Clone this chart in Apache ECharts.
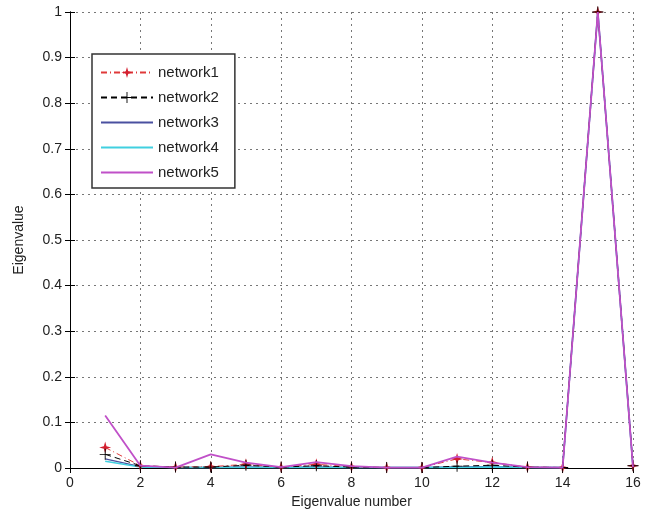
<!DOCTYPE html>
<html><head><meta charset="utf-8">
<script src="https://cdn.jsdelivr.net/npm/echarts@6/dist/echarts.min.js"></script>
<style>html,body{margin:0;padding:0;background:#fff}#c{width:651px;height:520px}</style>
</head><body><div id="c"></div>
<script>
const xValues = [1,2,3,4,5,6,7,8,9,10,11,12,13,14,15,16];
const network1 = [0.045,0.005,0.002,0.003,0.008,0.002,0.008,0.003,0.001,0.001,0.02,0.012,0.002,0.001,1,0.005];
const network2 = [0.03,0.005,0.002,0.002,0.006,0.002,0.005,0.002,0.001,0.001,0.004,0.006,0.002,0.001,1,0.005];
const network3 = [0.02,0.003,0.001,0.001,0.002,0.001,0.002,0.001,0.001,0.001,0.002,0.003,0.001,0.001,1,0.002];
const network4 = [0.015,0.002,0.001,0.001,0.001,0.001,0.001,0.001,0.001,0.001,0.001,0.002,0.001,0.001,1,0.002];
const network5 = [0.115,0.005,0.001,0.03,0.012,0.002,0.013,0.004,0.001,0.001,0.025,0.012,0.002,0.001,1,0.002];
const names = ['network1','network2','network3','network4','network5'];

const pairs = a => xValues.map((x,i)=>[x,a[i]]);
const star = 'path://M0,-10 L2.2,-2.2 L10,0 L2.2,2.2 L0,10 L-2.2,2.2 L-10,0 L-2.2,-2.2 Z';
const plus = 'path://M-0.8,-10 L0.8,-10 L0.8,-0.8 L10,-0.8 L10,0.8 L0.8,0.8 L0.8,10 L-0.8,10 L-0.8,0.8 L-10,0.8 L-10,-0.8 L-0.8,-0.8 Z';
const font = 'Arial, "Liberation Sans", sans-serif';
const axisCommon = {
  axisLine:{show:true,lineStyle:{color:'#000',width:1}},
  axisTick:{show:true,inside:true,length:5,lineStyle:{color:'#000'}},
  axisLabel:{color:'#222',fontSize:14,fontFamily:font},
};
const chart = echarts.init(document.getElementById('c'));
chart.setOption({
  animation:false,
  backgroundColor:'#fff',
  grid:{left:70,right:18,top:12,bottom:52,show:false},
  legend:{
    orient:'vertical', left:92, top:54,
    backgroundColor:'#fff', borderColor:'#333', borderWidth:1.5,
    padding:[11,16,8,8], itemGap:10, itemWidth:52, itemHeight:14,
    textStyle:{fontSize:15,fontFamily:font,color:'#222'},
    data:[
      {name:'network1'},
      {name:'network2'},
      {name:'network3',itemStyle:{opacity:0}},
      {name:'network4',itemStyle:{opacity:0}},
      {name:'network5',itemStyle:{opacity:0}}
    ]
  },
  xAxis:[
    Object.assign({type:'value',min:0,max:16,interval:2,name:'Eigenvalue number',nameLocation:'middle',nameGap:24,
      nameTextStyle:{fontSize:14,fontFamily:font,color:'#222'},
      splitLine:{show:true,lineStyle:{color:'#777',type:[2,4],width:1}}},axisCommon,
      {axisLabel:Object.assign({},axisCommon.axisLabel,{margin:8})}),
    {type:'value',min:0,max:16,interval:2,position:'top',axisLine:{show:true,lineStyle:{color:'#000'}},
      axisTick:{show:true,inside:true,length:5,lineStyle:{color:'#000'}},axisLabel:{show:false},splitLine:{show:false}}
  ],
  yAxis:[
    Object.assign({type:'value',min:0,max:1,interval:0.1,name:'Eigenvalue',nameLocation:'middle',nameGap:44,
      nameTextStyle:{fontSize:14,fontFamily:font,color:'#222'},
      splitLine:{show:true,lineStyle:{color:'#777',type:[2,4],width:1}}},axisCommon,
      {axisLabel:Object.assign({},axisCommon.axisLabel,{margin:8,formatter:v=>String(Math.round(v*10)/10)})}),
    {type:'value',min:0,max:1,interval:0.1,position:'right',axisLine:{show:true,lineStyle:{color:'#000'}},
      axisTick:{show:true,inside:true,length:5,lineStyle:{color:'#000'}},axisLabel:{show:false},splitLine:{show:false}}
  ],
  series:[
    {name:'network1',type:'line',data:pairs(network1),symbol:star,symbolSize:12,
      lineStyle:{color:'#e03a3a',width:1,type:[6,3,1,3]},itemStyle:{color:'#d42030'},z:6},
    {name:'network2',type:'line',data:pairs(network2),symbol:plus,symbolSize:11,
      lineStyle:{color:'#000',width:1,type:[6,4]},itemStyle:{color:'#000'},z:7},
    {name:'network3',type:'line',data:pairs(network3),symbol:'none',
      lineStyle:{color:'#4a50a0',width:1.5},itemStyle:{color:'#4a50a0'},z:2},
    {name:'network4',type:'line',data:pairs(network4),symbol:'none',
      lineStyle:{color:'#40d0e0',width:1.5},itemStyle:{color:'#40d0e0'},z:3},
    {name:'network5',type:'line',data:pairs(network5),symbol:'none',
      lineStyle:{color:'#c050c8',width:1.8},itemStyle:{color:'#c050c8'},z:8}
  ]
});
</script></body></html>
